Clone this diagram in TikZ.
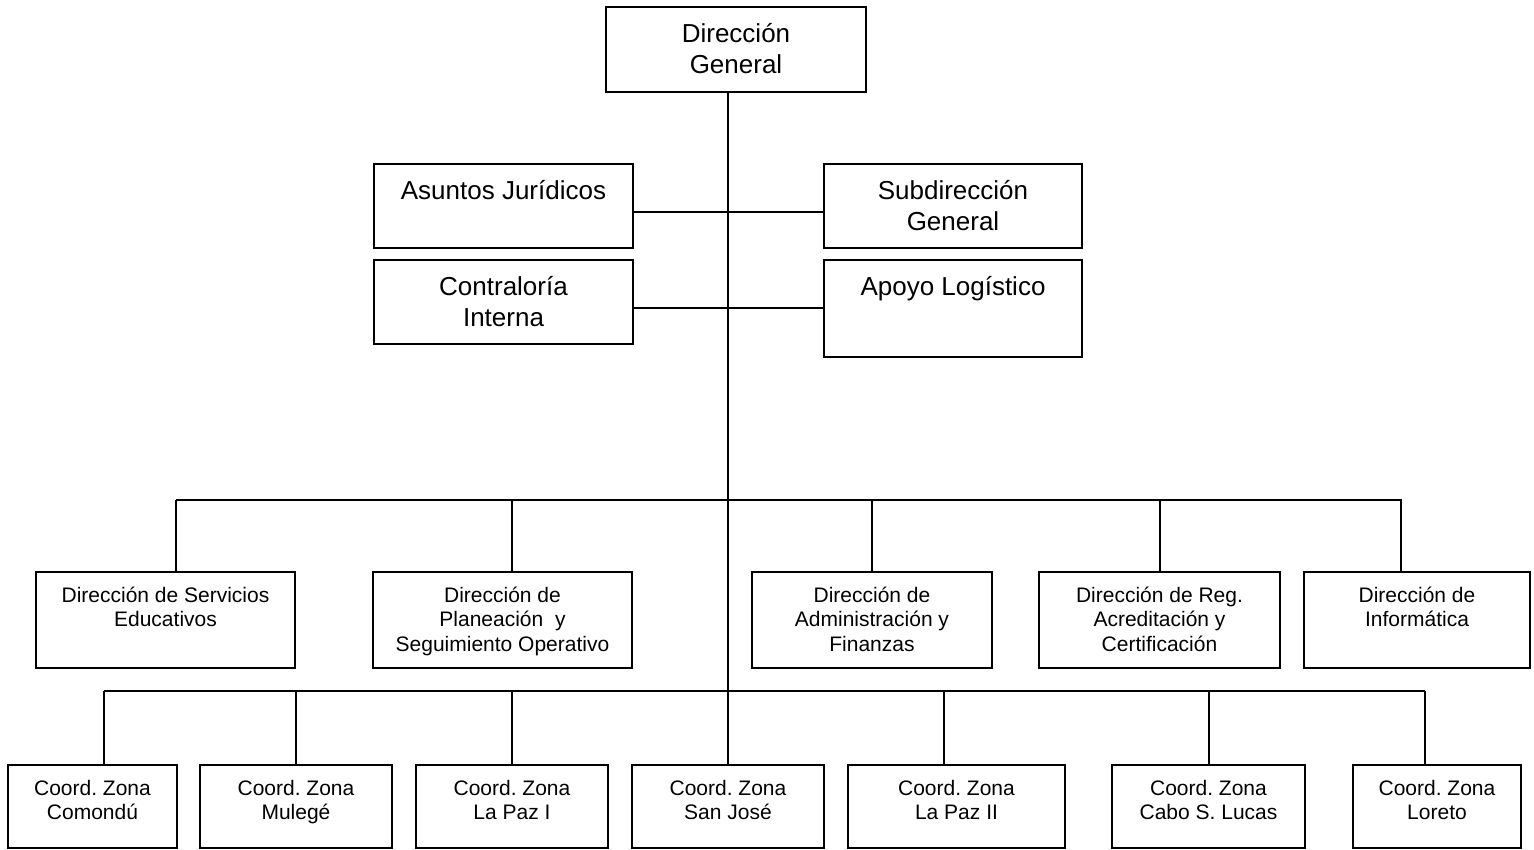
\documentclass[tikz,border=0pt]{standalone}
\usepackage{fontspec}
\setmainfont{Liberation Sans}
\begin{document}
\frenchspacing
\begin{tikzpicture}[x=1pt,y=-1pt,
  box/.style={draw, line width=1.6pt, inner sep=0pt, fill=white},
  big/.style={font=\fontsize{26}{30.5}\selectfont, align=center, inner sep=0pt, anchor=north},
  small/.style={font=\fontsize{21}{24.5}\selectfont, align=center, inner sep=0pt, anchor=north},
  link/.style={line width=1.6pt}]
\useasboundingbox[fill=white] (0,0) rectangle (1534,849);

% ---- bus coordinates ----
\coordinate (bl) at (176,500);
\coordinate (br) at (1402,500);
\coordinate (cl) at (104,691);
\coordinate (cr) at (1425,691);
\coordinate (d2) at (512,500);
\coordinate (d4) at (1160,500);
\coordinate (d5) at (1401,500);
\coordinate (e5) at (944,691);
\coordinate (e6) at (1209,691);

% ---- boxes ----
\node[box, minimum width=260pt, minimum height=85pt] (dg) at (736,49.5) {};
\node[box, minimum width=259pt, minimum height=84pt] (aj) at (503.5,206) {};
\node[box, minimum width=258pt, minimum height=84pt] (sd) at (953,206) {};
\node[box, minimum width=259pt, minimum height=84pt] (ci) at (503.5,302) {};
\node[box, minimum width=258pt, minimum height=97pt] (al) at (953,308.5) {};

\node[box, minimum width=259pt, minimum height=96pt] (b1) at (165.5,620) {};
\node[box, minimum width=259pt, minimum height=96pt] (b2) at (502.5,620) {};
\node[box, minimum width=240pt, minimum height=96pt] (b3) at (872,620) {};
\node[box, minimum width=241pt, minimum height=96pt] (b4) at (1159.5,620) {};
\node[box, minimum width=226pt, minimum height=96pt] (b5) at (1417,620) {};

\node[box, minimum width=169pt, minimum height=83pt] (c1) at (92.5,806.5) {};
\node[box, minimum width=192pt, minimum height=83pt] (c2) at (296,806.5) {};
\node[box, minimum width=192pt, minimum height=83pt] (c3) at (512,806.5) {};
\node[box, minimum width=192pt, minimum height=83pt] (c4) at (728,806.5) {};
\node[box, minimum width=217pt, minimum height=83pt] (c5) at (956.5,806.5) {};
\node[box, minimum width=193pt, minimum height=83pt] (c6) at (1208.5,806.5) {};
\node[box, minimum width=168pt, minimum height=83pt] (c7) at (1437,806.5) {};

% ---- connectors ----
\draw[link] (dg.south -| c4.north) -- (c4.north);
\draw[link] ([yshift=-6pt]aj.east) -- ([yshift=-6pt]aj.east -| sd.west);
\draw[link] ([yshift=-6pt]ci.east) -- ([yshift=-6pt]ci.east -| al.west);

\draw[link] (bl) -- (br);
\draw[link] (bl) -- (bl |- b1.north);
\draw[link] (d2) -- (d2 |- b2.north);
\draw[link] (b3.north |- bl) -- (b3.north);
\draw[link] (d4) -- (d4 |- b4.north);
\draw[link] (d5) -- (d5 |- b5.north);

\draw[link] (cl) -- (cr);
\draw[link] (cl) -- (cl |- c1.north);
\draw[link] (c2.north |- cl) -- (c2.north);
\draw[link] (c3.north |- cl) -- (c3.north);
\draw[link] (e5) -- (e5 |- c5.north);
\draw[link] (e6) -- (e6 |- c6.north);
\draw[link] (cr) -- (cr |- c7.north);

% ---- texts ----
\node[big] (dg-t) at ([yshift=-15.2pt]dg.north) {\strut Dirección\\General};
\node[big] (aj-t) at ([yshift=-15.2pt]aj.north) {\strut Asuntos Jurídicos};
\node[big] (sd-t) at ([yshift=-15.2pt]sd.north) {\strut Subdirección\\General};
\node[big] (ci-t) at ([yshift=-15.2pt]ci.north) {\strut Contraloría\\Interna};
\node[big] (al-t) at ([yshift=-15.2pt]al.north) {\strut Apoyo Logístico};

\node[small] (b1-t) at ([yshift=-13.9pt]b1.north) {\strut Dirección de Servicios\\Educativos};
\node[small] (b2-t) at ([yshift=-13.9pt]b2.north) {\strut Dirección de\\Planeación~ y\\Seguimiento Operativo};
\node[small] (b3-t) at ([yshift=-13.9pt]b3.north) {\strut Dirección de\\Administración y\\Finanzas};
\node[small] (b4-t) at ([yshift=-13.9pt]b4.north) {\strut Dirección de Reg.\\Acreditación y\\Certificación};
\node[small] (b5-t) at ([yshift=-13.9pt]b5.north) {\strut Dirección de\\Informática};

\node[small] (c1-t) at ([yshift=-13.9pt]c1.north) {\strut Coord. Zona\\Comondú};
\node[small] (c2-t) at ([yshift=-13.9pt]c2.north) {\strut Coord. Zona\\Mulegé};
\node[small] (c3-t) at ([yshift=-13.9pt]c3.north) {\strut Coord. Zona\\La Paz I};
\node[small] (c4-t) at ([yshift=-13.9pt]c4.north) {\strut Coord. Zona\\San José};
\node[small] (c5-t) at ([yshift=-13.9pt]c5.north) {\strut Coord. Zona\\La Paz II};
\node[small] (c6-t) at ([yshift=-13.9pt]c6.north) {\strut Coord. Zona\\Cabo S. Lucas};
\node[small] (c7-t) at ([yshift=-13.9pt]c7.north) {\strut Coord. Zona\\Loreto};
\end{tikzpicture}
\end{document}
